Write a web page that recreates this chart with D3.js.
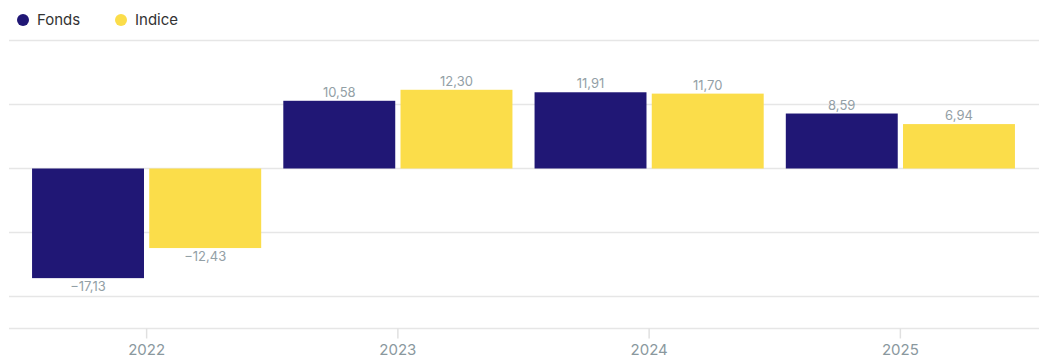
<!DOCTYPE html>
<html>
<head>
<meta charset="utf-8">
<script src="https://cdn.jsdelivr.net/npm/d3@7"></script>
<style>
  body { margin: 0; background: #fff; }
  text { font-family: Inter, "Noto Sans", sans-serif; }
</style>
</head>
<body>
<div id="chart"></div>
<script>
  // data
  var years = ["2022", "2023", "2024", "2025"];
  var series = ["Fonds", "Indice"];
  var fonds = [-17.13, 10.58, 11.91, 8.59];
  var indice = [-12.43, 12.30, 11.70, 6.94];
  var gridValues = [20, 10, 0, -10, -20];
  var colors = ["#201775", "#fbdd4a"];

  var width = 1039, height = 358;
  var Plot = { left: 21, right: 1026, top: 40.5, bottom: 328.5, gridLeft: 9, gridRight: 1039 };

  var locale = d3.formatLocale({ decimal: ",", thousands: " ", grouping: [3], currency: ["", " €"], minus: "\u2212" });
  var format = locale.format(".2f");

  var svg = d3.select("#chart").append("svg")
      .attr("width", width)
      .attr("height", height);

  var x = d3.scaleBand().domain(years).range([Plot.left, Plot.right]).paddingInner(0.088).paddingOuter(0.044);
  var xs = d3.scaleBand().domain(series).range([0, x.bandwidth()]).paddingInner(0.045);
  var y = d3.scaleLinear().domain([-25, 20]).range([Plot.bottom, Plot.top]);

  // gridlines
  svg.append("g").selectAll("line")
      .data(gridValues)
      .enter().append("line")
      .attr("x1", Plot.gridLeft).attr("x2", Plot.gridRight)
      .attr("y1", d => y(d)).attr("y2", d => y(d))
      .attr("stroke", "#e6e6e6")
      .attr("stroke-width", 1.5);

  // bars
  var rows = years.map((yr, i) => ({ year: yr, values: [fonds[i], indice[i]] }));
  var groups = svg.append("g").selectAll("g")
      .data(rows)
      .enter().append("g")
      .attr("transform", d => `translate(${x(d.year)},0)`);

  groups.selectAll("rect")
      .data(d => d.values.map((v, j) => ({ key: series[j], value: v, c: colors[j] })))
      .enter().append("rect")
      .attr("x", d => xs(d.key))
      .attr("width", xs.bandwidth())
      .attr("y", d => y(Math.max(0, d.value)))
      .attr("height", d => Math.abs(y(d.value) - y(0)))
      .attr("fill", d => d.c);

  groups.selectAll("text")
      .data(d => d.values.map((v, j) => ({ key: series[j], value: v })))
      .enter().append("text")
      .attr("x", d => xs(d.key) + xs.bandwidth() / 2)
      .attr("y", d => d.value >= 0 ? y(d.value) - 4 : y(d.value) + 13)
      .attr("text-anchor", "middle")
      .attr("font-size", 13)
      .attr("fill", "#93a0a6")
      .text(d => format(d.value));

  // x axis
  var xAxis = d3.axisBottom(x).tickSize(10).tickPadding(6);
  var ax = svg.append("g")
      .attr("transform", `translate(0,${Plot.bottom})`)
      .call(xAxis);
  ax.select(".domain").remove();
  ax.selectAll(".tick line").attr("stroke", "#e0e0e0").attr("stroke-width", 1.5);
  ax.selectAll(".tick text").attr("font-size", 15).attr("fill", "#8a989e").attr("font-family", "Inter, sans-serif");
  ax.insert("line", ":first-child")
      .attr("x1", Plot.gridLeft).attr("x2", Plot.gridRight)
      .attr("y1", 0).attr("y2", 0)
      .attr("stroke", "#e6e6e6")
      .attr("stroke-width", 1.5);

  // legend
  var legend = svg.append("g").attr("transform", "translate(23,20)");
  var item = legend.selectAll("g")
      .data(series)
      .enter().append("g")
      .attr("transform", (d, i) => `translate(${i * 98},0)`);
  item.append("circle").attr("r", 6).attr("fill", (d, i) => colors[i]);
  item.append("text")
      .attr("x", 14).attr("y", 5)
      .attr("font-size", 15)
      .attr("fill", "#333")
      .text(d => d);
</script>
</body>
</html>
